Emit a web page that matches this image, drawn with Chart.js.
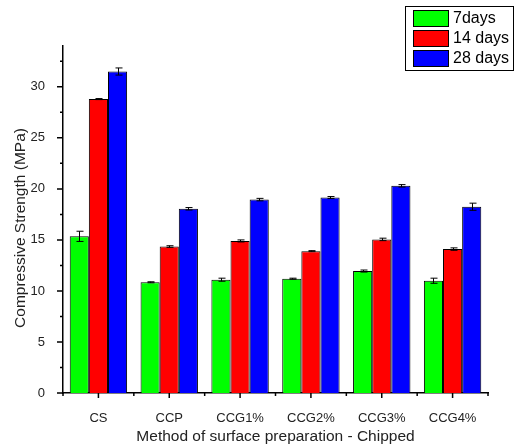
<!DOCTYPE html>
<html>
<head>
<meta charset="utf-8">
<script src="https://cdn.jsdelivr.net/npm/chart.js@4/dist/chart.umd.min.js"></script>
<style>
  html, body { margin: 0; padding: 0; background: #fff; }
  #wrap { width: 515px; height: 448px; }
</style>
</head>
<body>
<div id="wrap"><canvas id="grafico" width="515" height="448"></canvas></div>
<script>
const categorias = ["CS", "CCP", "CCG1%", "CCG2%", "CCG3%", "CCG4%"];
const series = ["7days", "14 days", "28 days"];
const dias7 = [15.35, 10.85, 11.1, 11.2, 11.95, 11.0];
const dias14 = [28.8, 14.35, 14.9, 13.9, 15.05, 14.1];
const dias28 = [31.5, 18.05, 18.95, 19.15, 20.3, 18.25];
const erro7 = [0.5, 0.05, 0.15, 0.05, 0.1, 0.25];
const erro14 = [0.05, 0.08, 0.1, 0.05, 0.12, 0.12];
const erro28 = [0.35, 0.12, 0.12, 0.1, 0.12, 0.35];
const cores = ["#00ff00", "#ff0000", "#0000ff"];
const yTicks = [0, 5, 10, 15, 20, 25, 30];
const tituloY = "Compressive Strength (MPa)";
const tituloX = "Method of surface preparation - Chipped";

const fonte = "'Liberation Sans', Arial, sans-serif";

// barras de erro
const errorBars = {
  id: "errorBars",
  afterDatasetsDraw(chart) {
    const ctx = chart.ctx;
    const y = chart.scales.y;
    ctx.save();
    ctx.strokeStyle = "#000";
    ctx.lineWidth = 1;
    chart.data.datasets.forEach((ds, i) => {
      const meta = chart.getDatasetMeta(i);
      meta.data.forEach((bar, j) => {
        const v = ds.data[j];
        const e = ds.erros[j];
        const yt = y.getPixelForValue(v + e);
        const yb = y.getPixelForValue(v - e);
        const x = Math.round(bar.x) + 0.5;
        ctx.beginPath();
        ctx.moveTo(x, yt); ctx.lineTo(x, yb);
        ctx.moveTo(x - 3, yt); ctx.lineTo(x + 4, yt);
        ctx.moveTo(x - 3, yb); ctx.lineTo(x + 4, yb);
        ctx.stroke();
      });
    });
    ctx.restore();
  }
};

// ticks maiores e menores dos eixos + titulo do eixo y
const axisTicks = {
  id: "axisTicks",
  afterDraw(chart) {
    const ctx = chart.ctx;
    const { x, y } = chart.scales;
    const area = chart.chartArea;
    ctx.save();
    ctx.strokeStyle = "#000";
    ctx.lineWidth = 1.5;
    ctx.beginPath();
    for (let v = 0; v <= 34; v += 2.5) {
      const py = y.getPixelForValue(v);
      const len = v % 5 === 0 ? 6 : 3;
      ctx.moveTo(area.left, py);
      ctx.lineTo(area.left - len, py);
    }
    const n = categorias.length;
    const w = (area.right - area.left) / n;
    for (let i = 0; i < n; i++) {
      const px = x.getPixelForValue(i);
      ctx.moveTo(px, area.bottom);
      ctx.lineTo(px, area.bottom + 5);
    }
    for (let i = 0; i <= n; i++) {
      const px = area.left + i * w;
      ctx.moveTo(px, area.bottom);
      ctx.lineTo(px, area.bottom + 3);
    }
    ctx.stroke();

    ctx.translate(21, 228);
    ctx.rotate(-Math.PI / 2);
    ctx.font = "15.5px " + fonte;
    ctx.fillStyle = "#222";
    ctx.textAlign = "center";
    ctx.textBaseline = "middle";
    ctx.fillText(tituloY, 0, 0);
    ctx.restore();
  }
};

// legenda no canto superior direito
const legendaBox = {
  id: "legendaBox",
  afterDraw(chart) {
    const ctx = chart.ctx;
    ctx.save();
    ctx.fillStyle = "#fff";
    ctx.fillRect(405, 6, 109, 65);
    ctx.strokeStyle = "#000";
    ctx.lineWidth = 1;
    ctx.strokeRect(405.5, 6.5, 108, 64);
    ctx.font = "16px " + fonte;
    ctx.textBaseline = "middle";
    chart.data.datasets.forEach((ds, i) => {
      const top = 10 + i * 20;
      ctx.fillStyle = ds.backgroundColor;
      ctx.fillRect(413, top, 36, 17);
      ctx.strokeStyle = "#000";
      ctx.strokeRect(413.5, top + 0.5, 35, 16);
      ctx.fillStyle = "#000";
      ctx.fillText(ds.label, 453, top + 9);
    });
    ctx.restore();
  }
};

const ctx = document.getElementById("grafico").getContext("2d");
new Chart(ctx, {
  type: "bar",
  data: {
    labels: categorias,
    datasets: [
      { label: series[0], data: dias7, erros: erro7, backgroundColor: cores[0] },
      { label: series[1], data: dias14, erros: erro14, backgroundColor: cores[1] },
      { label: series[2], data: dias28, erros: erro28, backgroundColor: cores[2] },
    ].map((d) => Object.assign(d, {
      borderColor: "#000",
      borderWidth: 1,
      categoryPercentage: 0.81,
      barPercentage: 1.0,
    })),
  },
  options: {
    responsive: false,
    animation: false,
    layout: { padding: { top: 46, right: 27, left: 0, bottom: 0 } },
    plugins: { legend: { display: false }, tooltip: { enabled: false } },
    scales: {
      x: {
        grid: { display: false },
        border: { display: true, color: "#000", width: 1.5 },
        ticks: { color: "#222", font: { family: fonte, size: 13 }, padding: 10, maxRotation: 0 },
        title: {
          display: true,
          text: tituloX,
          color: "#222",
          font: { family: fonte, size: 15.5 },
          padding: { top: 0, bottom: 2 },
        },
        afterFit(scale) { scale.height = 55; },
      },
      y: {
        min: 0,
        max: 34,
        afterBuildTicks(scale) { scale.ticks = yTicks.map((v) => ({ value: v })); },
        grid: { display: false },
        border: { display: true, color: "#000", width: 1.5 },
        ticks: { color: "#222", font: { family: fonte, size: 13 }, padding: 10 },
        afterFit(scale) { scale.width = 63; },
      },
    },
  },
  plugins: [errorBars, axisTicks, legendaBox],
});
</script>
</body>
</html>
